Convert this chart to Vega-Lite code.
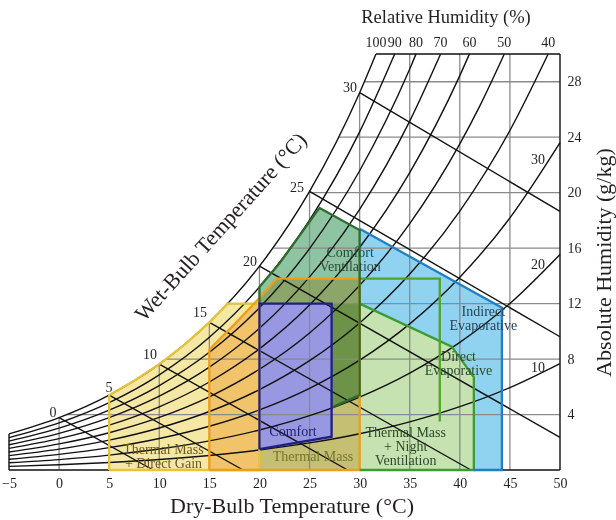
{
"$schema":"https://vega.github.io/schema/vega-lite/v6.json",
"width":551,"height":416,
"autosize":{"type":"none"},
"padding":{"left":9,"top":54,"right":56,"bottom":50},
"background":"white",
"config":{"view":{"stroke":null},"font":"Liberation Serif"},
"datasets":{
"zones":[
{"z":"IE","i":0,"T":30,"W":17.4},{"z":"IE","i":1,"T":44.2,"W":11.7},{"z":"IE","i":2,"T":44.2,"W":0},{"z":"IE","i":3,"T":30,"W":0},
{"z":"TMNV","i":0,"T":20,"W":0},{"z":"TMNV","i":1,"T":20,"W":12},{"z":"TMNV","i":2,"T":30,"W":12},{"z":"TMNV","i":3,"T":39.2,"W":8.9},{"z":"TMNV","i":4,"T":41.4,"W":6.7},{"z":"TMNV","i":5,"T":41.4,"W":0},
{"z":"TMDG","i":0,"T":5,"W":0},{"z":"TMDG","i":1,"T":5,"W":5.403},{"z":"TMDG","i":2,"T":7.5,"W":6.435},{"z":"TMDG","i":3,"T":10,"W":7.632},{"z":"TMDG","i":4,"T":12.5,"W":9.028},{"z":"TMDG","i":5,"T":15,"W":10.65},{"z":"TMDG","i":6,"T":16.83,"W":12},{"z":"TMDG","i":7,"T":20,"W":12},{"z":"TMDG","i":8,"T":20,"W":0},
{"z":"TM","i":0,"T":15,"W":0},{"z":"TM","i":1,"T":15,"W":8.7},{"z":"TM","i":2,"T":17.5,"W":10.5},{"z":"TM","i":3,"T":20,"W":12.4},{"z":"TM","i":4,"T":21.7,"W":13.8},{"z":"TM","i":5,"T":30,"W":13.8},{"z":"TM","i":6,"T":30,"W":0},
{"z":"CV","i":0,"T":20,"W":12},{"z":"CV","i":1,"T":20,"W":13.2},{"z":"CV","i":2,"T":22,"W":14.9},{"z":"CV","i":3,"T":24,"W":16.9},{"z":"CV","i":4,"T":26,"W":18.9},{"z":"CV","i":5,"T":30,"W":17.3},{"z":"CV","i":6,"T":30,"W":5.4},{"z":"CV","i":7,"T":27.2,"W":4.5},{"z":"CV","i":8,"T":27.2,"W":12},
{"z":"C","i":0,"T":20,"W":1.5},{"z":"C","i":1,"T":20,"W":12},{"z":"C","i":2,"T":27.2,"W":12},{"z":"C","i":3,"T":27.2,"W":2.4}
],
"outl":[
{"o":"a_TMDG","i":0,"T":5,"W":0},{"o":"a_TMDG","i":1,"T":5,"W":5.403},{"o":"a_TMDG","i":2,"T":7.5,"W":6.435},{"o":"a_TMDG","i":3,"T":10,"W":7.632},{"o":"a_TMDG","i":4,"T":12.5,"W":9.028},{"o":"a_TMDG","i":5,"T":15,"W":10.65},{"o":"a_TMDG","i":6,"T":16.83,"W":12},{"o":"a_TMDG","i":7,"T":20,"W":12},{"o":"a_TMDG","i":8,"T":20,"W":0},{"o":"a_TMDG","i":9,"T":5,"W":0},
{"o":"b_TM","i":0,"T":15,"W":0},{"o":"b_TM","i":1,"T":15,"W":8.7},{"o":"b_TM","i":2,"T":17.5,"W":10.5},{"o":"b_TM","i":3,"T":20,"W":12.4},{"o":"b_TM","i":4,"T":21.7,"W":13.8},{"o":"b_TM","i":5,"T":30,"W":13.8},{"o":"b_TM","i":6,"T":30,"W":0},{"o":"b_TM","i":7,"T":15,"W":0},
{"o":"c_TMNV","i":0,"T":30,"W":12},{"o":"c_TMNV","i":1,"T":39.2,"W":8.9},{"o":"c_TMNV","i":2,"T":41.4,"W":6.7},{"o":"c_TMNV","i":3,"T":41.4,"W":0},{"o":"c_TMNV","i":4,"T":30,"W":0},
{"o":"d_IE","i":0,"T":30,"W":17.4},{"o":"d_IE","i":1,"T":44.2,"W":11.7},{"o":"d_IE","i":2,"T":44.2,"W":0},{"o":"d_IE","i":3,"T":41.4,"W":0},
{"o":"e_DE","i":0,"T":30,"W":13.8},{"o":"e_DE","i":1,"T":38,"W":13.8},{"o":"e_DE","i":2,"T":38,"W":3.5},
{"o":"f_CV","i":0,"T":20,"W":12},{"o":"f_CV","i":1,"T":20,"W":13.2},{"o":"f_CV","i":2,"T":22,"W":14.9},{"o":"f_CV","i":3,"T":24,"W":16.9},{"o":"f_CV","i":4,"T":26,"W":18.9},{"o":"f_CV","i":5,"T":30,"W":17.3},{"o":"f_CV","i":6,"T":30,"W":5.4},{"o":"f_CV","i":7,"T":27.2,"W":4.5},
{"o":"g_C","i":0,"T":20,"W":1.5},{"o":"g_C","i":1,"T":20,"W":12},{"o":"g_C","i":2,"T":27.2,"W":12},{"o":"g_C","i":3,"T":27.2,"W":2.4},{"o":"g_C","i":4,"T":20,"W":1.5}
],
"rh":[
{"rh":100,"T":-5,"W":2.600},{"rh":100,"T":0,"W":3.775},{"rh":100,"T":5,"W":5.403},{"rh":100,"T":10,"W":7.632},{"rh":100,"T":15,"W":10.650},{"rh":100,"T":20,"W":14.699},{"rh":100,"T":25,"W":20.086},{"rh":100,"T":30,"W":27.210},{"rh":100,"T":31.63,"W":30},
{"rh":90,"T":-5,"W":2.338},{"rh":90,"T":0,"W":3.395},{"rh":90,"T":5,"W":4.858},{"rh":90,"T":10,"W":6.860},{"rh":90,"T":15,"W":9.569},{"rh":90,"T":20,"W":13.198},{"rh":90,"T":25,"W":18.019},{"rh":90,"T":30,"W":24.382},{"rh":90,"T":33.5,"W":30},
{"rh":80,"T":-5,"W":2.078},{"rh":80,"T":0,"W":3.016},{"rh":80,"T":5,"W":4.315},{"rh":80,"T":10,"W":6.091},{"rh":80,"T":15,"W":8.491},{"rh":80,"T":20,"W":11.704},{"rh":80,"T":25,"W":15.966},{"rh":80,"T":30,"W":21.579},{"rh":80,"T":35,"W":28.923},{"rh":80,"T":35.63,"W":30},
{"rh":70,"T":-5,"W":1.817},{"rh":70,"T":0,"W":2.638},{"rh":70,"T":5,"W":3.772},{"rh":70,"T":10,"W":5.323},{"rh":70,"T":15,"W":7.417},{"rh":70,"T":20,"W":10.217},{"rh":70,"T":25,"W":13.925},{"rh":70,"T":30,"W":18.800},{"rh":70,"T":35,"W":25.162},{"rh":70,"T":38.08,"W":30},
{"rh":60,"T":-5,"W":1.557},{"rh":60,"T":0,"W":2.259},{"rh":60,"T":5,"W":3.231},{"rh":60,"T":10,"W":4.557},{"rh":60,"T":15,"W":6.347},{"rh":60,"T":20,"W":8.737},{"rh":60,"T":25,"W":11.898},{"rh":60,"T":30,"W":16.045},{"rh":60,"T":35,"W":21.443},{"rh":60,"T":40,"W":28.440},{"rh":60,"T":40.96,"W":30},
{"rh":50,"T":-5,"W":1.297},{"rh":50,"T":0,"W":1.882},{"rh":50,"T":5,"W":2.690},{"rh":50,"T":10,"W":3.793},{"rh":50,"T":15,"W":5.280},{"rh":50,"T":20,"W":7.264},{"rh":50,"T":25,"W":9.884},{"rh":50,"T":30,"W":13.314},{"rh":50,"T":35,"W":17.767},{"rh":50,"T":40,"W":23.520},{"rh":50,"T":42,"W":26.26},{"rh":50,"T":44.44,"W":30},
{"rh":40,"T":-5,"W":1.037},{"rh":40,"T":0,"W":1.504},{"rh":40,"T":5,"W":2.150},{"rh":40,"T":10,"W":3.031},{"rh":40,"T":15,"W":4.217},{"rh":40,"T":20,"W":5.797},{"rh":40,"T":25,"W":7.882},{"rh":40,"T":30,"W":10.605},{"rh":40,"T":35,"W":14.133},{"rh":40,"T":40,"W":18.675},{"rh":40,"T":45,"W":24.484},{"rh":40,"T":48.82,"W":30},
{"rh":30,"T":-5,"W":0.778},{"rh":30,"T":0,"W":1.128},{"rh":30,"T":5,"W":1.611},{"rh":30,"T":10,"W":2.270},{"rh":30,"T":15,"W":3.157},{"rh":30,"T":20,"W":4.338},{"rh":30,"T":25,"W":5.893},{"rh":30,"T":30,"W":7.920},{"rh":30,"T":35,"W":10.540},{"rh":30,"T":40,"W":13.902},{"rh":30,"T":45,"W":18.184},{"rh":30,"T":50,"W":23.611},
{"rh":20,"T":-5,"W":0.518},{"rh":20,"T":0,"W":0.751},{"rh":20,"T":5,"W":1.073},{"rh":20,"T":10,"W":1.512},{"rh":20,"T":15,"W":2.101},{"rh":20,"T":20,"W":2.885},{"rh":20,"T":25,"W":3.916},{"rh":20,"T":30,"W":5.258},{"rh":20,"T":35,"W":6.987},{"rh":20,"T":40,"W":9.199},{"rh":20,"T":45,"W":12.006},{"rh":20,"T":50,"W":15.544},
{"rh":10,"T":-5,"W":0.259},{"rh":10,"T":0,"W":0.375},{"rh":10,"T":5,"W":0.536},{"rh":10,"T":10,"W":0.755},{"rh":10,"T":15,"W":1.049},{"rh":10,"T":20,"W":1.439},{"rh":10,"T":25,"W":1.952},{"rh":10,"T":30,"W":2.618},{"rh":10,"T":35,"W":3.474},{"rh":10,"T":40,"W":4.566},{"rh":10,"T":45,"W":5.945},{"rh":10,"T":50,"W":7.676}
],
"segs":[
{"k":"grid","T":0,"W":0,"T2":0,"W2":3.775},{"k":"grid","T":5,"W":0,"T2":5,"W2":5.403},{"k":"grid","T":10,"W":0,"T2":10,"W2":7.632},{"k":"grid","T":15,"W":0,"T2":15,"W2":10.65},{"k":"grid","T":20,"W":0,"T2":20,"W2":14.699},{"k":"grid","T":25,"W":0,"T2":25,"W2":20.086},{"k":"grid","T":30,"W":0,"T2":30,"W2":27.21},{"k":"grid","T":35,"W":0,"T2":35,"W2":30},{"k":"grid","T":40,"W":0,"T2":40,"W2":30},{"k":"grid","T":45,"W":0,"T2":45,"W2":30},
{"k":"grid","T":0.79,"W":4,"T2":50,"W2":4},{"k":"grid","T":10.69,"W":8,"T2":50,"W2":8},{"k":"grid","T":16.83,"W":12,"T2":50,"W2":12},{"k":"grid","T":21.34,"W":16,"T2":50,"W2":16},{"k":"grid","T":24.93,"W":20,"T2":50,"W2":20},{"k":"grid","T":27.91,"W":24,"T2":50,"W2":24},{"k":"grid","T":30.47,"W":28,"T2":50,"W2":28},
{"k":"wb","T":0,"W":3.775,"T2":9.385,"W2":0},{"k":"wb","T":5,"W":5.403,"T2":18.37,"W2":0},{"k":"wb","T":10,"W":7.632,"T2":28.8,"W2":0},{"k":"wb","T":15,"W":10.65,"T2":41.11,"W2":0},{"k":"wb","T":20,"W":14.699,"T2":50,"W2":2.35},{"k":"wb","T":25,"W":20.086,"T2":50,"W2":9.608},{"k":"wb","T":30,"W":27.21,"T2":50,"W2":18.649},
{"k":"wb","T":-5,"W":0,"T2":-5,"W2":2.6},{"k":"wb","T":-5,"W":0,"T2":50,"W2":0},{"k":"wb","T":50,"W":0,"T2":50,"W2":30},{"k":"wb","T":31.63,"W":30,"T2":50,"W2":30}
],
"zl":[
{"zone":"CV","text":"Comfort\nVentilation","T":29.05,"W":15.65},
{"zone":"IE","text":"Indirect\nEvaporative","T":42.35,"W":11.39},
{"zone":"DE","text":"Direct\nEvaporative","T":39.87,"W":8.15},
{"zone":"DE","text":"Thermal Mass\n+ Night\nVentilation","T":34.6,"W":2.67},
{"zone":"TM","text":"Thermal Mass","T":25.35,"W":0.94},
{"zone":"C","text":"Comfort","T":23.35,"W":2.74},
{"zone":"TMDG","text":"Thermal Mass\n+ Direct Gain","T":10.42,"W":1.44}
],
"txt":[
{"g":"n","text":"30","T":29.04,"W":27.55},{"g":"n","text":"25","T":23.75,"W":20.34},{"g":"n","text":"20","T":19.06,"W":15.0},{"g":"n","text":"15","T":14.07,"W":11.32},{"g":"n","text":"10","T":9.07,"W":8.29},{"g":"n","text":"5","T":4.98,"W":5.91},{"g":"n","text":"0","T":-0.61,"W":4.11},
{"g":"n","text":"30","T":47.8,"W":22.36},{"g":"n","text":"20","T":47.8,"W":14.78},{"g":"n","text":"10","T":47.8,"W":7.36},
{"g":"top","text":"100","T":31.63,"W":30},{"g":"top","text":"90","T":33.5,"W":30},{"g":"top","text":"80","T":35.63,"W":30},{"g":"top","text":"70","T":38.08,"W":30},{"g":"top","text":"60","T":40.96,"W":30},{"g":"top","text":"50","T":44.44,"W":30},{"g":"top","text":"40","T":48.82,"W":30},
{"g":"tt","text":"Relative Humidity (%)","T":38.62,"W":32.67},
{"g":"wt","text":"Wet-Bulb Temperature (°C)","T":16.16,"W":17.52}
]
},
"encoding":{
"x":{"field":"T","type":"quantitative","scale":{"domain":[-5,50],"nice":false,"zero":false},
"axis":{"values":[-5,0,5,10,15,20,25,30,35,40,45,50],"title":"Dry-Bulb Temperature (°C)","domain":false,"ticks":false,"grid":false,"labelFont":"Liberation Serif","labelFontSize":14,"labelColor":"#231f20","labelPadding":6,"labelFlush":false,"titleFont":"Liberation Serif","titleFontSize":22,"titleFontWeight":"normal","titleColor":"#231f20","titlePadding":5,"titleX":282.5}},
"y":{"field":"W","type":"quantitative","scale":{"domain":[0,30],"nice":false,"zero":false},
"axis":{"orient":"right","values":[4,8,12,16,20,24,28],"title":"Absolute Humidity (g/kg)","domain":false,"ticks":false,"grid":false,"labelFont":"Liberation Serif","labelFontSize":14,"labelColor":"#231f20","labelPadding":7,"titleFont":"Liberation Serif","titleFontSize":22,"titleFontWeight":"normal","titleColor":"#231f20","titleAngle":270,"titleBaseline":"top","titlePadding":12}}
},
"resolve":{"scale":{"color":"independent"}},
"layer":[
{"data":{"name":"zones"},"transform":[{"filter":"datum.z==='IE'"}],"mark":{"type":"line","fill":"#8fd3f1","strokeWidth":0},"encoding":{"order":{"field":"i","type":"quantitative"}}},
{"data":{"name":"zones"},"transform":[{"filter":"datum.z==='TMNV'"}],"mark":{"type":"line","fill":"#c7e2b1","strokeWidth":0},"encoding":{"order":{"field":"i","type":"quantitative"}}},
{"data":{"name":"zones"},"transform":[{"filter":"datum.z==='TMDG'"}],"mark":{"type":"line","fill":"#f5e8a5","strokeWidth":0,"blend":"multiply"},"encoding":{"order":{"field":"i","type":"quantitative"}}},
{"data":{"name":"zones"},"transform":[{"filter":"datum.z==='TM'"}],"mark":{"type":"line","fill":"#fbd8a5","strokeWidth":0,"blend":"multiply"},"encoding":{"order":{"field":"i","type":"quantitative"}}},
{"data":{"name":"zones"},"transform":[{"filter":"datum.z==='CV'"}],"mark":{"type":"line","fill":"#8ec4a2","strokeWidth":0,"blend":"multiply"},"encoding":{"order":{"field":"i","type":"quantitative"}}},
{"data":{"name":"zones"},"transform":[{"filter":"datum.z==='C'"}],"mark":{"type":"line","fill":"#9797e2","strokeWidth":0},"encoding":{"order":{"field":"i","type":"quantitative"}}},
{"data":{"name":"segs"},"transform":[{"filter":"datum.k==='grid'"}],"mark":{"type":"rule","color":"#8a8a8a","strokeWidth":1.3},"encoding":{"x2":{"field":"T2"},"y2":{"field":"W2"}}},
{"data":{"name":"rh"},"mark":{"type":"line","color":"#111111","strokeWidth":1.4,"interpolate":"monotone"},"encoding":{"detail":{"field":"rh","type":"nominal"},"order":{"field":"T","type":"quantitative"}}},
{"data":{"name":"segs"},"transform":[{"filter":"datum.k==='wb'"}],"mark":{"type":"rule","color":"#111111","strokeWidth":1.4},"encoding":{"x2":{"field":"T2"},"y2":{"field":"W2"}}},
{"data":{"name":"outl"},"mark":{"type":"line","strokeWidth":2.3,"strokeJoin":"miter"},"encoding":{"color":{"field":"o","type":"nominal","legend":null,"scale":{"domain":["a_TMDG","b_TM","c_TMNV","d_IE","e_DE","f_CV","g_C"],"range":["#e6c43c","#ea9f1e","#3d9b35","#1f80c8","#52a22c","#2e6b2e","#1f1f8a"]}},"detail":{"field":"o","type":"nominal"},"order":{"field":"i","type":"quantitative"}}},
{"data":{"name":"zl"},"mark":{"type":"text","font":"Liberation Serif","fontSize":14,"baseline":"middle","align":"center","lineBreak":"\n","lineHeight":14},"encoding":{"text":{"field":"text"},"color":{"field":"zone","type":"nominal","legend":null,"scale":{"domain":["CV","IE","DE","TM","C","TMDG"],"range":["#2d4a3c","#2b3f58","#2a4a2a","#76762a","#1e1e6e","#6b5a20"]}}}},
{"data":{"name":"txt"},"transform":[{"filter":"datum.g==='n'"}],"mark":{"type":"text","font":"Liberation Serif","fontSize":14,"baseline":"middle","align":"center","color":"#231f20"},"encoding":{"text":{"field":"text"}}},
{"data":{"name":"txt"},"transform":[{"filter":"datum.g==='top'"}],"mark":{"type":"text","font":"Liberation Serif","fontSize":14,"baseline":"middle","align":"center","dy":-11,"color":"#231f20"},"encoding":{"text":{"field":"text"}}},
{"data":{"name":"txt"},"transform":[{"filter":"datum.g==='tt'"}],"mark":{"type":"text","font":"Liberation Serif","fontSize":18.5,"baseline":"middle","align":"center","color":"#231f20"},"encoding":{"text":{"field":"text"}}},
{"data":{"name":"txt"},"transform":[{"filter":"datum.g==='wt'"}],"mark":{"type":"text","font":"Liberation Serif","fontSize":22,"baseline":"middle","align":"center","angle":312,"color":"#231f20"},"encoding":{"text":{"field":"text"}}}
]
}
